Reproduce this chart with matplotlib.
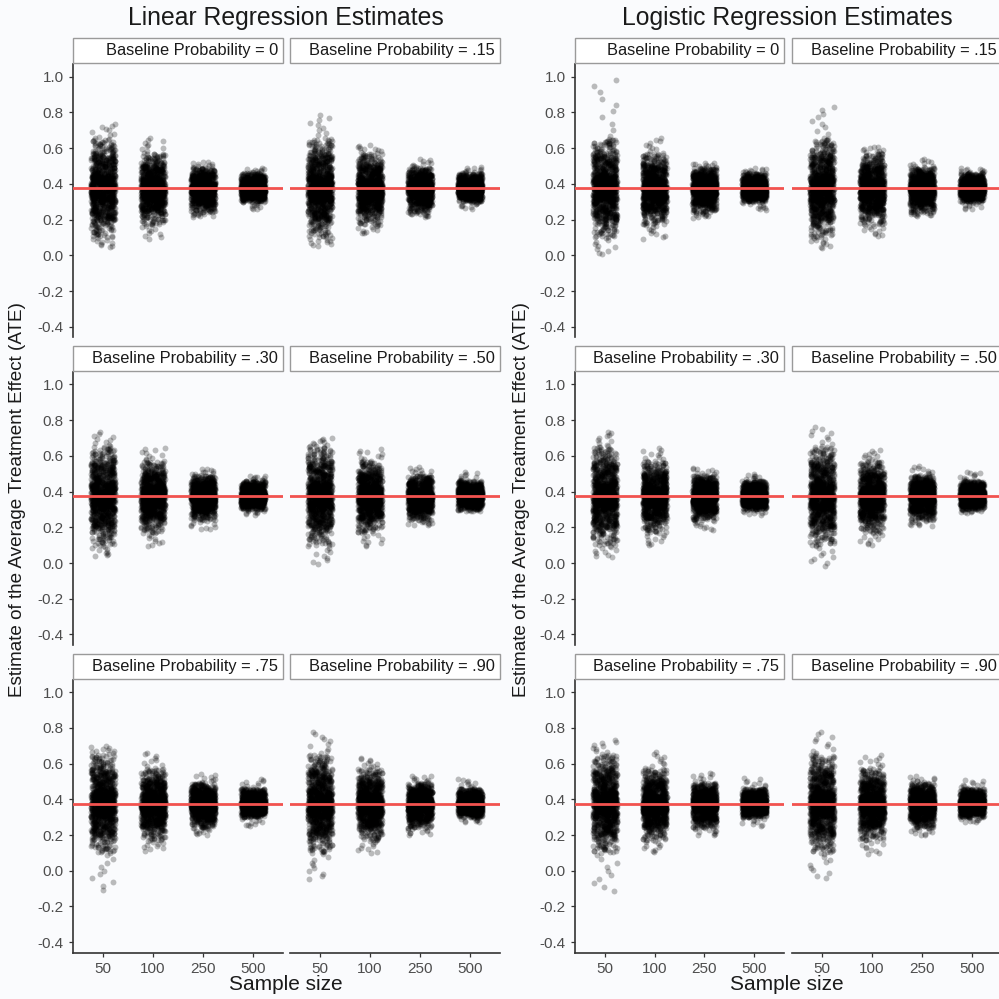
"""Jittered ATE estimates by sample size, linear vs logistic regression."""

import matplotlib
matplotlib.use("Agg")
import matplotlib.pyplot as plt
from matplotlib.patches import Rectangle
import numpy as np

plt.rcParams["font.family"] = ["Liberation Sans", "DejaVu Sans"]

sample_sizes = ["50", "100", "250", "500"]
baseline_labels = ["0", ".15", ".30", ".50", ".75", ".90"]
true_ate = 0.375
yticks = [-0.4, -0.2, 0.0, 0.2, 0.4, 0.6, 0.8, 1.0]

# percentile levels used to describe each cloud of estimates
pct_levels = [0.0, 0.01, 0.05, 0.25, 0.5, 0.75, 0.95, 0.99, 1.0]
# inner percentiles (q01, q05, q25, q50, q75, q95, q99) read per sample size
core_q = {
    "50":  [0.10, 0.19, 0.30, 0.375, 0.45, 0.57, 0.65],
    "100": [0.17, 0.24, 0.32, 0.37, 0.425, 0.51, 0.57],
    "250": [0.24, 0.28, 0.34, 0.37, 0.405, 0.46, 0.49],
    "500": [0.30, 0.32, 0.35, 0.375, 0.40, 0.44, 0.46],
}

# lowest / highest estimate in each strip; rows = baseline prob, cols = sample size
linear_min = [
    [0.045, 0.09, 0.215, 0.255],
    [0.05, 0.12, 0.215, 0.26],
    [0.035, 0.09, 0.185, 0.27],
    [-0.01, 0.09, 0.21, 0.29],
    [-0.12, 0.11, 0.20, 0.245],
    [-0.055, 0.095, 0.20, 0.27],
]
linear_max = [
    [0.74, 0.66, 0.525, 0.49],
    [0.79, 0.62, 0.54, 0.495],
    [0.735, 0.65, 0.53, 0.49],
    [0.70, 0.64, 0.54, 0.51],
    [0.70, 0.665, 0.545, 0.515],
    [0.785, 0.635, 0.535, 0.515],
]
logistic_min = [
    [0.0, 0.09, 0.21, 0.25],
    [0.04, 0.105, 0.22, 0.255],
    [0.03, 0.095, 0.18, 0.27],
    [-0.02, 0.095, 0.205, 0.28],
    [-0.125, 0.10, 0.195, 0.25],
    [-0.05, 0.09, 0.195, 0.27],
]
logistic_max = [
    [1.0, 0.66, 0.52, 0.49],
    [0.84, 0.61, 0.54, 0.49],
    [0.74, 0.645, 0.535, 0.50],
    [0.77, 0.635, 0.545, 0.515],
    [0.735, 0.67, 0.55, 0.52],
    [0.785, 0.65, 0.53, 0.51],
]

N_SIM = 1000
BG = "#fafbfd"
W = H = 999.0


def strip_values(q_inner, lo, hi, n=N_SIM, k=30):
    q = [lo] + list(q_inner) + [hi]
    p = (np.arange(n) + 0.5) / n
    y = np.interp(p, pct_levels, q)
    # soften the steps between the read percentiles, keep the extremes as read
    sm = np.convolve(y, np.ones(2 * k + 1) / (2 * k + 1), mode="same")
    y[k:-k] = sm[k:-k]
    return y


def jitter(n=N_SIM, half=0.24, shift=0.0):
    # fixed horizontal spread (hash of the index), only a position offset
    i = np.arange(n) + shift
    u = (np.sin(i * 12.9898 + 1.7) * 43758.5453) % 1.0
    return (u - 0.5) * 2 * half


def fig_rect(left, top, w, h):
    return [left / W, 1 - (top + h) / H, w / W, h / H]


fig = plt.figure(figsize=(9.99, 9.99), dpi=100, facecolor=BG)

row_tops = [64.2, 371.9, 679.6]
row_h = 273.3
blocks = [
    ("Linear Regression Estimates", [(73, 210), (290, 210)], 286, 18,
     linear_min, linear_max),
    ("Logistic Regression Estimates", [(575, 209), (792, 210)], 787, 522,
     logistic_min, logistic_max),
]

for b, (title, cols, cx, ylab_x, mins, maxs) in enumerate(blocks):
    fig.text(cx / W, 1 - 18 / H, title, ha="center", va="center",
             fontsize=17.8, color="#1a1a1a")
    fig.text(cx / W, 1 - 985 / H, "Sample size", ha="center", va="center",
             fontsize=15, color="#1a1a1a")
    fig.text(ylab_x / W, 1 - 500 / H,
             "Estimate of the Average Treatment Effect (ATE)",
             rotation=90, ha="center", va="center", fontsize=13.6,
             color="#1a1a1a")
    for k, lab in enumerate(baseline_labels):
        r, c = divmod(k, 2)
        left, w = cols[c]
        top = row_tops[r]
        ax = fig.add_axes(fig_rect(left, top, w, row_h))
        ax.set_facecolor(BG)
        for j, n in enumerate(sample_sizes):
            yv = strip_values(core_q[n], mins[k][j], maxs[k][j])
            xoff = jitter(shift=1000.0 * (b * 24 + k * 4 + j))
            ax.scatter(j + 1 + xoff, yv, s=18, color="black", alpha=0.26,
                       linewidths=0, zorder=2)
        ax.axhline(true_ate, color="#f2524f", lw=2.0, zorder=3)
        ax.set_xlim(0.4, 4.6)
        ax.set_ylim(-0.46, 1.07)
        for sp in ax.spines.values():
            sp.set_visible(False)
        ax.tick_params(colors="#333333", labelcolor="#4d4d4d",
                       labelsize=11, length=3, width=0.9)
        if c == 0:
            ax.spines["left"].set_visible(True)
            ax.spines["left"].set_color("#333333")
            ax.spines["left"].set_linewidth(1.2)
            ax.set_yticks(yticks)
            ax.set_yticklabels([f"{v:.1f}" for v in yticks])
        else:
            ax.set_yticks([])
        if r == 2:
            ax.spines["bottom"].set_visible(True)
            ax.spines["bottom"].set_color("#333333")
            ax.spines["bottom"].set_linewidth(1.2)
            ax.set_xticks(range(1, 5))
            ax.set_xticklabels(sample_sizes)
        else:
            ax.set_xticks([])
        # strip label box
        fig.add_artist(Rectangle((left / W, 1 - (top - 1) / H), w / W, 25 / H,
                                 transform=fig.transFigure, facecolor="white",
                                 edgecolor="#9a9a9a", lw=1.0))
        fig.text((left + w - 5) / W, 1 - (top - 13.5) / H,
                 f"Baseline Probability = {lab}", ha="right", va="center",
                 fontsize=11.8, color="#1a1a1a")

fig.savefig("out.png", dpi=100, facecolor=BG)
